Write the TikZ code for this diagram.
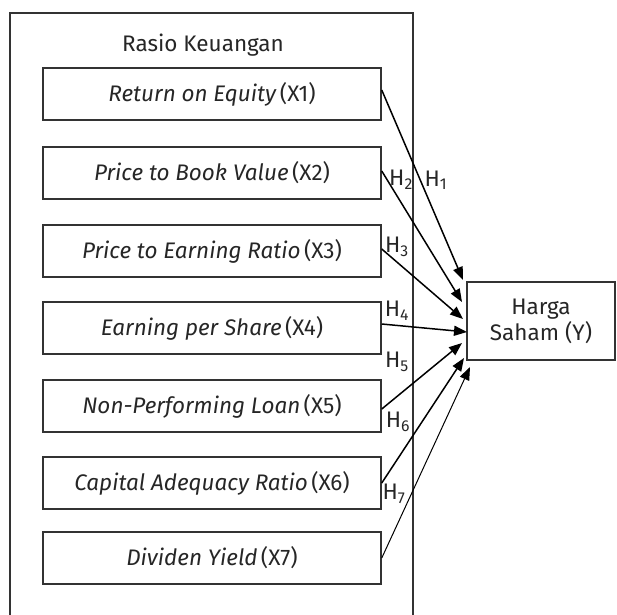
\documentclass[tikz,border=0pt]{standalone}
\usepackage{fontspec}
\setmainfont{Fira Sans}
\usetikzlibrary{arrows.meta}
\newcommand{\gp}{\hspace{0.15em}}
\begin{document}
\begin{tikzpicture}[x=1pt,y=-1pt,
  every node/.style={font=\fontsize{22.5}{26}\selectfont, text=black!85},
  xbox/.style={draw=black!80, line width=1.5pt, minimum width=338pt, minimum height=52pt, inner sep=0pt},
  ybox/.style={draw=black!80, line width=1.5pt, minimum width=148pt, minimum height=78pt, inner sep=0pt, align=center},
  hyp/.style={-{Triangle[length=13pt,width=10pt]}, line width=1.5pt, black},
  hlab/.style={inner sep=0pt}]
\useasboundingbox (0,0) rectangle (617,614);
\draw[black!80, line width=1.5pt] (10,630) -- (10,13) -- (413,13) -- (413,630);
\node (title) at (203,45) {Rasio Keuangan};
\node[xbox] (b1) at (212,94) {\textit{Return on Equity}\gp(X1)};
\node[xbox] (b2) at (212,173) {\textit{Price to Book Value}\gp(X2)};
\node[xbox] (b3) at (212,251) {\textit{Price to Earning Ratio}\gp(X3)};
\node[xbox] (b4) at (212,328) {\textit{Earning per Share}\gp(X4)};
\node[xbox] (b5) at (212,406) {\textit{Non-Performing Loan}\gp(X5)};
\node[xbox] (b6) at (212,483) {\textit{Capital Adequacy Ratio}\gp(X6)};
\node[xbox] (b7) at (212,558) {\textit{Dividen Yield}\gp(X7)};
\node[ybox] (y) at (541,321) {Harga\\Saham (Y)};
\coordinate (t1) at (463,280);
\coordinate (t2) at (462,302);
\coordinate (t3) at (463,319);
\coordinate (t4) at (467,332);
\coordinate (t5) at (462,343);
\coordinate (t6) at (464,358);
\coordinate (t7) at (470,367);
\draw[hyp] ([yshift=4pt]b1.east) -- (t1);
\draw[hyp] ([yshift=2pt]b2.east) -- (t2);
\draw[hyp] ([yshift=2pt]b3.east) -- (t3);
\draw[hyp] ([yshift=4pt]b4.east) -- (t4);
\draw[hyp] ([yshift=-3pt]b5.east) -- (t5);
\draw[hyp] (b6.east) -- (t6);
\draw[hyp, line width=1pt] (b7.east) -- (t7);
\node[hlab] (h1) at (436,180) {H\textsubscript{1}};
\node[hlab] (h2) at (401,180) {H\textsubscript{2}};
\node[hlab] (h3) at (397,247) {H\textsubscript{3}};
\node[hlab] (h4) at (397,311) {H\textsubscript{4}};
\node[hlab] (h5) at (397,362) {H\textsubscript{5}};
\node[hlab] (h6) at (398,422) {H\textsubscript{6}};
\node[hlab] (h7) at (394,494) {H\textsubscript{7}};
\end{tikzpicture}
\end{document}
